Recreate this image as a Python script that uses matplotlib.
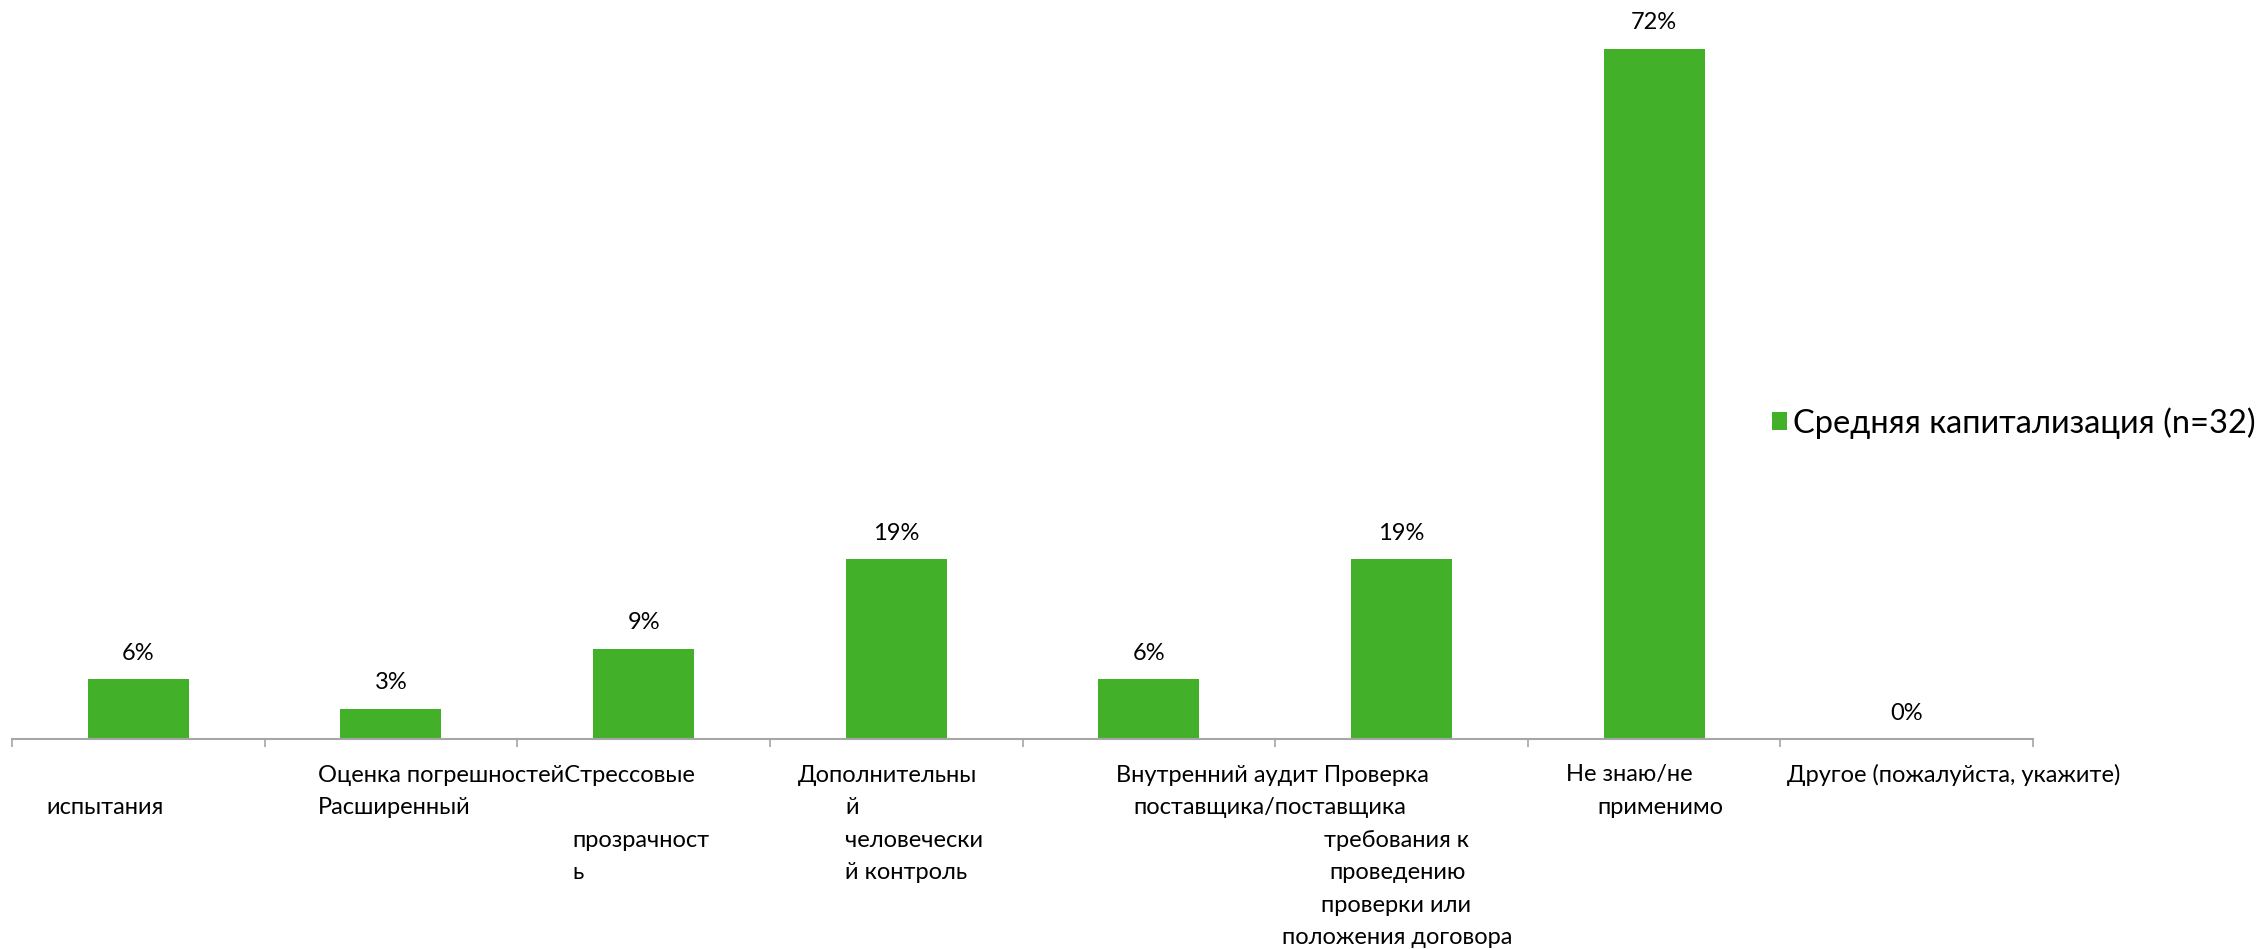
import matplotlib
matplotlib.use("Agg")
import matplotlib.pyplot as plt
from matplotlib.patches import Patch

# Data: share of respondents (n=32)
categories = [
    "Стресс-тестирование",
    "Оценка погрешностей",
    "Расширенная прозрачность",
    "Дополнительный человеческий контроль",
    "Внутренний аудит",
    "Проверка поставщика",
    "Не знаю/не применимо",
    "Другое (пожалуйста, укажите)",
]
values = [6.25, 3.13, 9.38, 18.75, 6.25, 18.75, 71.88, 0.0]
series_name = "Средняя капитализация (n=32)"

# Category label fragments as they appear under the axis: (text, left px, line)
label_fragments = [
    ("испытания", 46, 1),
    ("Оценка погрешностейСтрессовые", 318, 0),
    ("Расширенный", 318, 1),
    ("прозрачност", 572, 2),
    ("ь", 572, 3),
    ("Дополнительны", 798, 0),
    ("й", 845, 1),
    ("человечески", 845, 2),
    ("й контроль", 845, 3),
    ("Внутренний аудит Проверка", 1116, 0),
    ("поставщика/поставщика", 1133, 1),
    ("требования к", 1324, 2),
    ("проведению", 1329, 3),
    ("проверки или", 1321, 4),
    ("положения договора", 1282, 5),
    ("Не знаю/не", 1566, 0),
    ("применимо", 1597, 1),
    ("Другое (пожалуйста, укажите)", 1787, 0),
]

W, H = 2264, 949
GREEN = "#43B02A"
AXIS_GREY = "#A6A6A6"

plt.rcParams["font.family"] = ["Lato", "DejaVu Sans"]

fig = plt.figure(figsize=(W / 100, H / 100), dpi=100)
x0, x1 = 12, 2033
y_axis, y_top = 739, 19
ax = fig.add_axes([x0 / W, (H - y_axis) / H, (x1 - x0) / W, (y_axis - y_top) / H])

n = len(categories)
pos = [i + 0.5 for i in range(n)]
ax.bar(pos, values, width=0.4, color=GREEN, zorder=2)

for p, v in zip(pos, values):
    ax.annotate(f"{v:.0f}%", (p, v), xytext=(0, 18.7), textcoords="offset points",
                ha="center", va="center", fontsize=17, color="#000000")

ax.set_xlim(0, n)
ax.set_ylim(0, 75)
for s in ["top", "right", "left"]:
    ax.spines[s].set_visible(False)
ax.spines["bottom"].set_color(AXIS_GREY)
ax.spines["bottom"].set_linewidth(1.5)
ax.set_yticks([])
ax.set_xticks(range(n + 1))
ax.set_xticklabels([])
ax.tick_params(axis="x", length=6, width=1.2, color=AXIS_GREY, direction="out")

line_y0, line_step = 775, 32.6
for text, left, line in label_fragments:
    fig.text(left / W, 1 - (line_y0 + line * line_step) / H, text,
             ha="left", va="center", fontsize=17, color="#000000")

handle = Patch(facecolor=GREEN, edgecolor="none")
fig.legend([handle], [series_name], loc="center left",
           bbox_to_anchor=(1772 / W, 1 - 423 / H), frameon=False,
           handlelength=0.45, handleheight=0.45, handletextpad=0.2,
           borderpad=0, borderaxespad=0, fontsize=23.5)

fig.savefig("out.png", dpi=100)
